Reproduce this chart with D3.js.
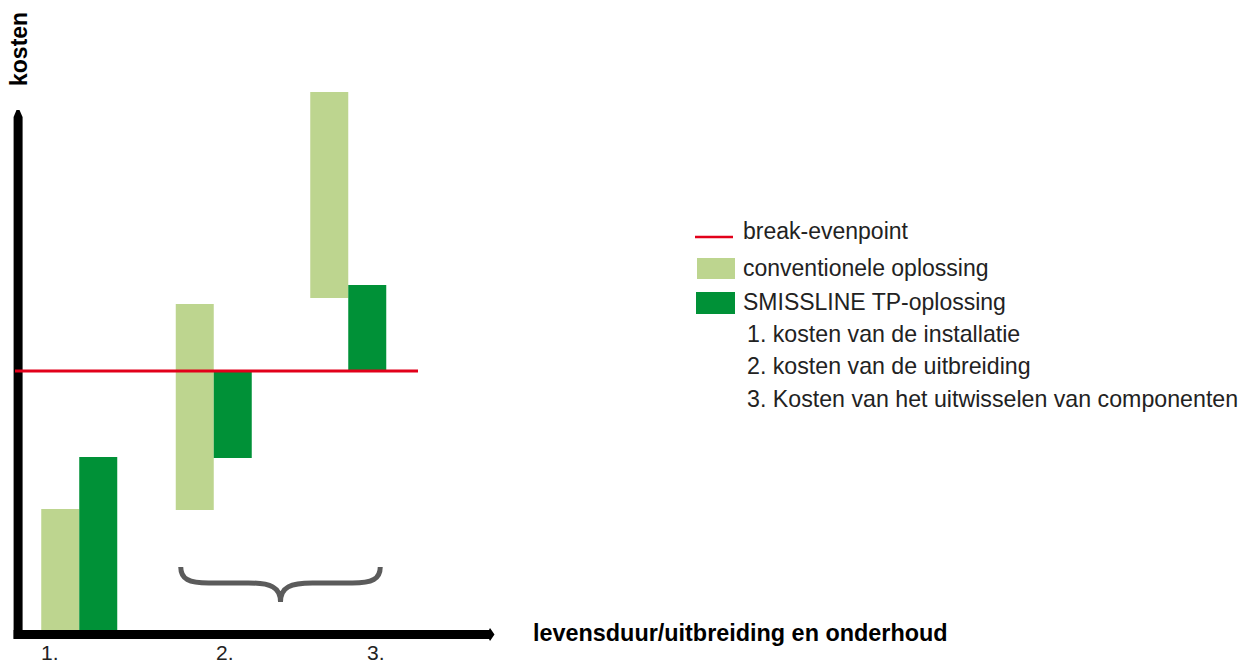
<!DOCTYPE html>
<html>
<head>
<meta charset="utf-8">
<script src="https://cdn.jsdelivr.net/npm/d3@7/dist/d3.min.js"></script>
<style>
  html, body { margin: 0; padding: 0; background: #fff; }
  svg { display: block; }
  text { font-family: "Liberation Sans", Arial, Helvetica, sans-serif; }
</style>
</head>
<body>
<svg id="chart" width="1253" height="666"></svg>
<script>
// ---- data ----
const categories = ["1.", "2.", "3."];
const conventioneel = [[0, 121], [120, 326], [332, 538]];   // [start, end] cost
const smissline = [[0, 173], [172, 258], [259, 345]];       // [start, end] cost
const breakEven = 259;
const tickLabels = ["1.", "2.", "3."];
const legendItems = ["break-evenpoint", "conventionele oplossing", "SMISSLINE TP-oplossing"];
const legendNotes = ["1. kosten van de installatie", "2. kosten van de uitbreiding", "3. Kosten van het uitwisselen van componenten"];
const yTitle = "kosten";
const xTitle = "levensduur/uitbreiding en onderhoud";

// ---- styles ----
const LIGHT = "#bdd58f", DARK = "#009137", RED = "#e2001a", BRACE = "#5b5b5b";

const svg = d3.select("#chart");

const x = d3.scaleBand().domain(categories).range([41.25, 386.25]).paddingInner(0.435).paddingOuter(0);
const y = d3.scaleLinear().domain([0, 520]).range([630, 110]);
const bw = x.bandwidth();

// bars
svg.append("g").selectAll("rect").data(categories).join("rect")
  .attr("x", d => x(d))
  .attr("width", bw / 2)
  .attr("y", (d, i) => y(conventioneel[i][1]))
  .attr("height", (d, i) => y(conventioneel[i][0]) - y(conventioneel[i][1]))
  .attr("fill", LIGHT);

svg.append("g").selectAll("rect").data(categories).join("rect")
  .attr("x", d => x(d) + bw / 2)
  .attr("width", bw / 2)
  .attr("y", (d, i) => y(smissline[i][1]))
  .attr("height", (d, i) => y(smissline[i][0]) - y(smissline[i][1]))
  .attr("fill", DARK);

// axes (thick arrows)
const y0 = y(0);
svg.append("path")
  .attr("d", `M13.6,${y0 + 9} L13.6,${y(520) + 7} L16.5,${y(520)} L19.5,${y(520)} L22.6,${y(520) + 7} L22.6,${y0} Z`)
  .attr("fill", "#000");
svg.append("path")
  .attr("d", `M13.6,${y0} L489,${y0} L490,${y0 - 2} L494.5,${y0 + 4.5} L490,${y0 + 11} L489,${y0 + 9} L13.6,${y0 + 9} Z`)
  .attr("fill", "#000");

// break-even line (drawn over the axis)
svg.append("line")
  .attr("x1", 15).attr("x2", 418)
  .attr("y1", y(breakEven)).attr("y2", y(breakEven))
  .attr("stroke", RED).attr("stroke-width", 3.2);

// tick labels
const labelX = d3.scaleOrdinal().domain(tickLabels).range([41, 216, 367]);
svg.append("g").selectAll("text").data(tickLabels).join("text")
  .attr("x", d => labelX(d))
  .attr("y", 660)
  .attr("font-size", 21)
  .attr("fill", "#222")
  .text(d => d);

// axis titles
svg.append("text")
  .attr("transform", "translate(27,86) rotate(-90)")
  .attr("font-size", 23)
  .attr("font-weight", "bold")
  .attr("fill", "#000")
  .text(yTitle);

svg.append("text")
  .attr("x", 533).attr("y", 641)
  .attr("font-size", 23.4)
  .attr("font-weight", "bold")
  .attr("fill", "#000")
  .text(xTitle);

// brace
const bx0 = x("2.") + 5, bx1 = x("3.") + bw - 6, bm = (bx0 + bx1) / 2;
const bt = 567, bh = 583, bb = 602;
svg.append("path")
  .attr("d",
    `M${bx0},${bt} C${bx0},${bh - 4} ${bx0 + 8},${bh} ${bx0 + 28},${bh} ` +
    `L${bm - 32},${bh} C${bm - 10},${bh} ${bm},${bh + 4} ${bm},${bb} ` +
    `M${bx1},${bt} C${bx1},${bh - 4} ${bx1 - 8},${bh} ${bx1 - 28},${bh} ` +
    `L${bm + 32},${bh} C${bm + 10},${bh} ${bm},${bh + 4} ${bm},${bb}`)
  .attr("fill", "none")
  .attr("stroke", BRACE)
  .attr("stroke-width", 5);

// legend
const lg = svg.append("g");
lg.append("line").attr("x1", 695).attr("x2", 733).attr("y1", 237).attr("y2", 237)
  .attr("stroke", RED).attr("stroke-width", 2.6);
lg.append("rect").attr("x", 697).attr("y", 258).attr("width", 38).attr("height", 21).attr("fill", LIGHT);
lg.append("rect").attr("x", 696).attr("y", 292).attr("width", 39).attr("height", 22).attr("fill", DARK);

const legendY = [238.5, 276, 309.5];
lg.selectAll("text.item").data(legendItems).join("text")
  .attr("class", "item")
  .attr("x", 743)
  .attr("y", (d, i) => legendY[i])
  .attr("font-size", 23)
  .attr("fill", "#222")
  .text(d => d);

const noteY = [341.5, 374, 406.5];
lg.selectAll("text.note").data(legendNotes).join("text")
  .attr("class", "note")
  .attr("x", 747)
  .attr("y", (d, i) => noteY[i])
  .attr("font-size", 23.2)
  .attr("fill", "#222")
  .text(d => d);
</script>
</body>
</html>
